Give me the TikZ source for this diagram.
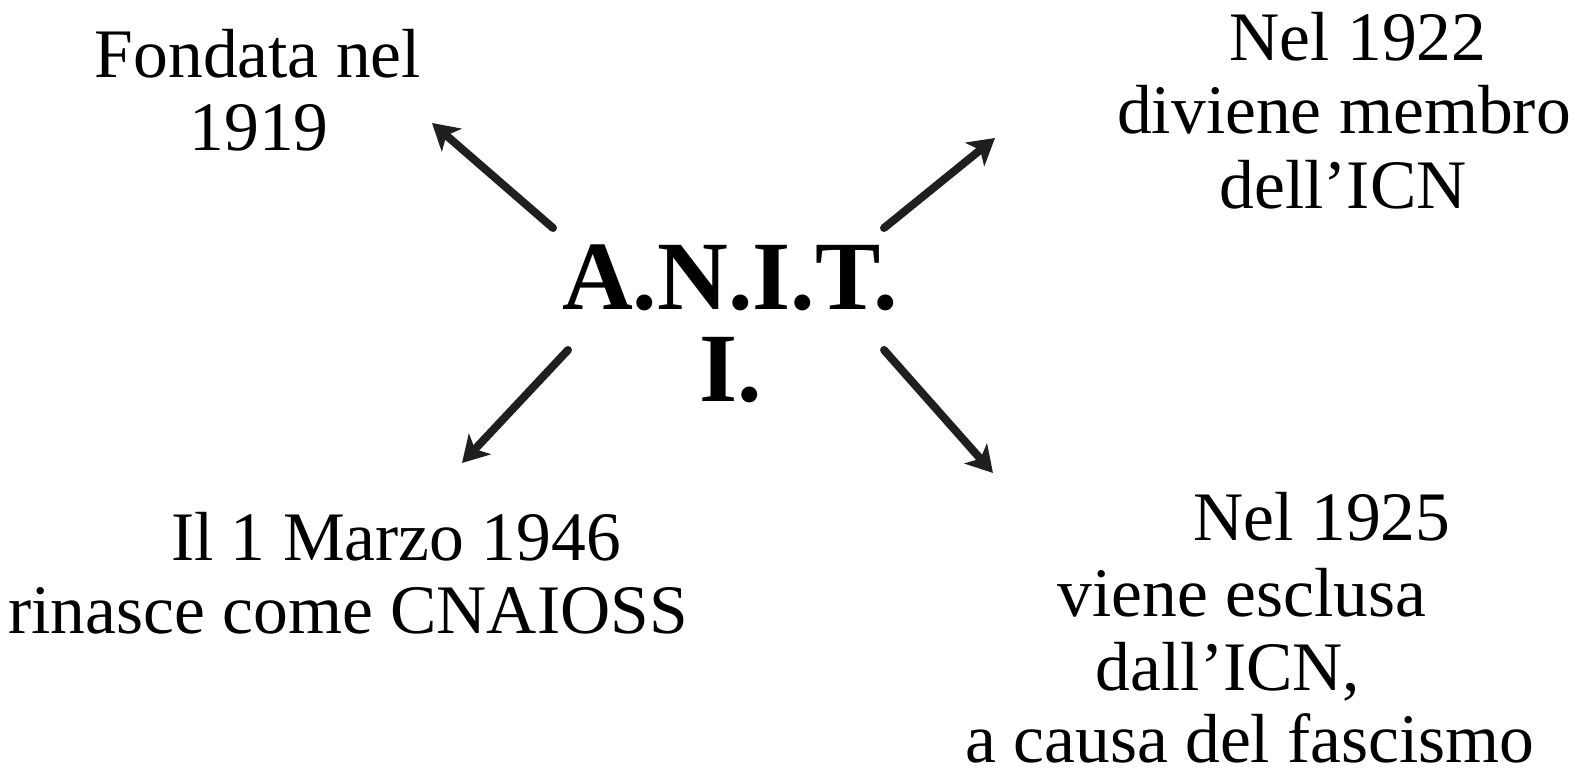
\documentclass[tikz,border=0pt]{standalone}
\usepackage{fontspec}
\setmainfont{Liberation Serif}
\usetikzlibrary{arrows.meta}
\begin{document}
\begin{tikzpicture}[x=1pt,y=-1pt,
  txt/.style={inner sep=0pt,anchor=base,font=\fontsize{69.5}{76}\selectfont},
  title/.style={inner sep=0pt,anchor=base,font=\fontsize{98}{100}\selectfont\bfseries},
  arr/.style={line width=8pt,line cap=round,color=black!88,-{Stealth[length=26pt,width=30pt,inset=7pt]}}]
\useasboundingbox (0,0) rectangle (1583,775);
\node[title] (anit) at (730,310) {A.N.I.T.};
\node[title] (anit2) at (731,402) {I.};
\node[txt] (f1) at (258,78) {Fondata nel};
\node[txt] (f2) at (259,151) {1919};
\node[txt] (n1) at (1358,61) {Nel 1922};
\node[txt] (n2) at (1344,134) {diviene membro};
\node[txt] (n3) at (1343,209) {dell’ICN};
\node[txt] (m1) at (396,560) {Il 1 Marzo 1946};
\node[txt] (m2) at (348,633) {rinasce come CNAIOSS};
\node[txt] (e1) at (1322,540) {Nel 1925};
\node[txt] (e2) at (1242,616) {viene esclusa};
\node[txt] (e3) at (1228,690) {dall’ICN,};
\node[txt] (e4) at (1250,762) {a causa del fascismo};
\coordinate (t1) at (553,228); \coordinate (h1) at (432,123);
\coordinate (t2) at (884,228); \coordinate (h2) at (995,138);
\coordinate (t3) at (568,350); \coordinate (h3) at (462,463);
\coordinate (t4) at (884,350); \coordinate (h4) at (993,473);
\draw[arr] (t1) -- (h1);
\draw[arr] (t2) -- (h2);
\draw[arr] (t3) -- (h3);
\draw[arr] (t4) -- (h4);
\end{tikzpicture}
\end{document}
